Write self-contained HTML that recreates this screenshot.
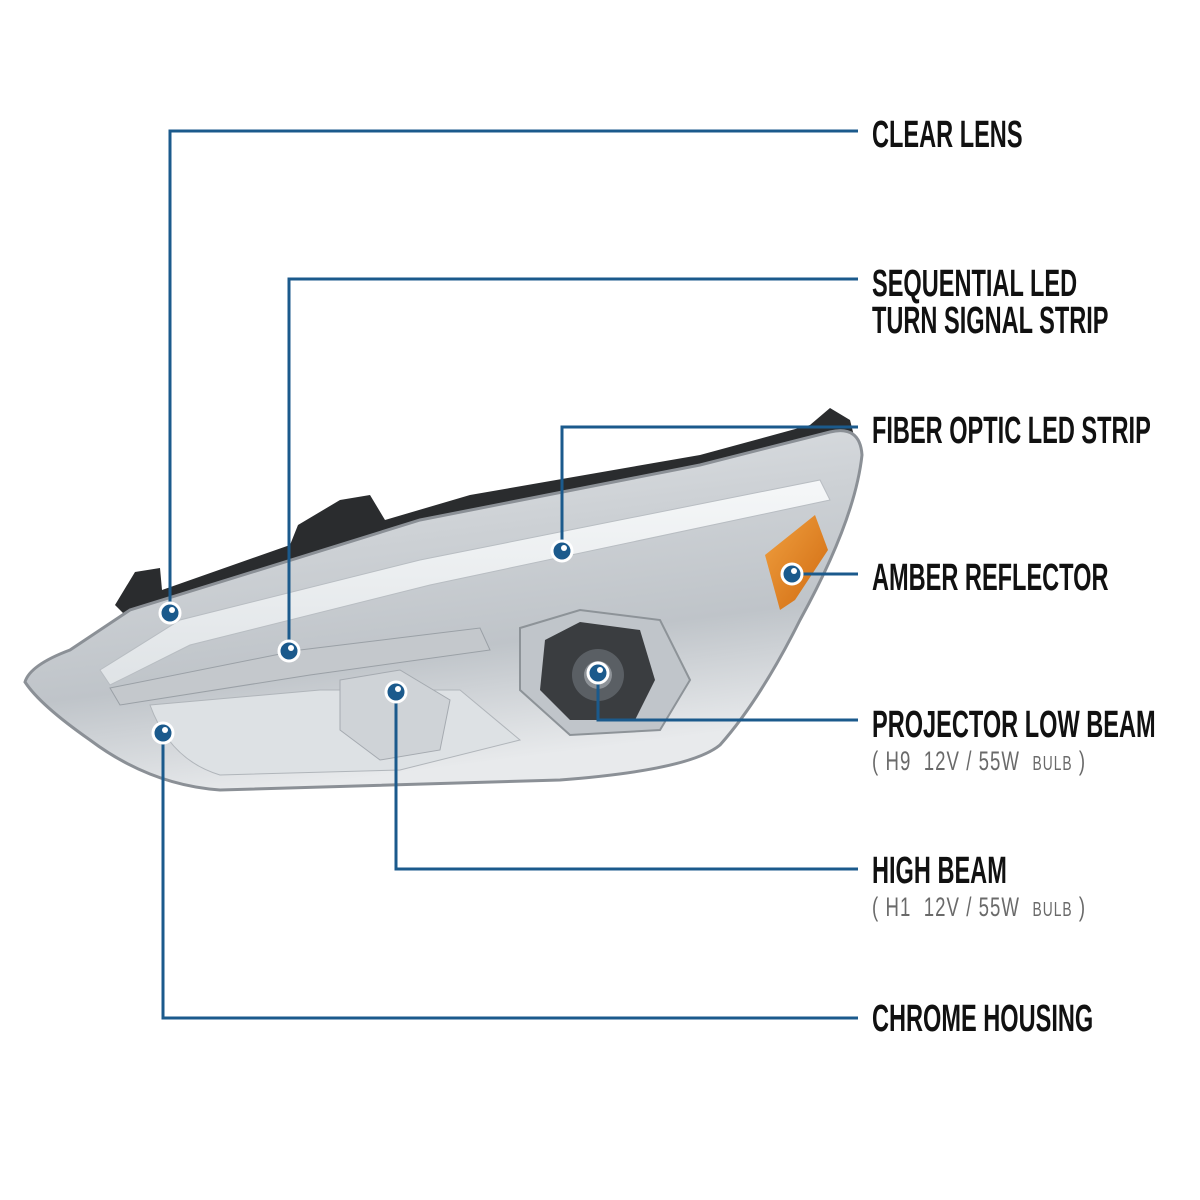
<!DOCTYPE html>
<html><head><meta charset="utf-8"><style>
html,body{margin:0;padding:0;background:#fff}
.wrap{position:relative;width:1200px;height:1200px;overflow:hidden;background:#fff}
.t{position:absolute;left:872px;font-family:"Liberation Sans",sans-serif;font-weight:bold;font-size:38px;color:#111;transform:scaleX(0.62);transform-origin:0 0;white-space:nowrap;line-height:37px}
.s{position:absolute;left:872px;font-family:"Liberation Sans",sans-serif;font-size:27px;color:#6a6a6a;transform:scaleX(0.69);transform-origin:0 0;white-space:nowrap;line-height:26px;letter-spacing:1.5px}
.s small{font-size:20px}
</style></head><body><div class="wrap">
<svg width="1200" height="1200" style="position:absolute;left:0;top:0">
<defs>
<linearGradient id="g1" x1="0" y1="0" x2="0.3" y2="1">
<stop offset="0" stop-color="#e4e7ea"/><stop offset="0.4" stop-color="#cdd1d5"/><stop offset="0.7" stop-color="#bfc4c9"/><stop offset="1" stop-color="#e8eaec"/></linearGradient>
<linearGradient id="g2" x1="0" y1="0" x2="0" y2="1"><stop offset="0" stop-color="#f5f7f8"/><stop offset="1" stop-color="#dfe3e6"/></linearGradient>
<linearGradient id="am" x1="0" y1="0" x2="1" y2="1"><stop offset="0" stop-color="#f0a040"/><stop offset="1" stop-color="#d06a10"/></linearGradient>
</defs>
<path d="M115,605 L135,572 L160,568 L162,590 L290,545 L298,525 L340,500 L370,495 L385,520 L470,495 L700,455 L810,425 L830,408 L850,420 L855,440 L600,500 L130,620 Z" fill="#2a2c2e"/>
<path d="M25,682 Q30,665 70,650 L130,610 L420,520 L700,465 L830,432 Q860,425 862,455 Q855,520 800,620 Q760,700 720,745 Q690,770 560,780 L220,790 Q150,785 90,740 Q40,705 25,682 Z" fill="url(#g1)" stroke="#8b9096" stroke-width="3"/>
<path d="M100,670 L180,620 L420,560 L820,480 L830,500 L430,585 L190,645 L110,685 Z" fill="url(#g2)" stroke="#b8bdc2"/>
<path d="M110,688 L300,650 L480,628 L490,650 L310,675 L120,705 Z" fill="#c4c8cc" stroke="#9aa0a6"/>
<path d="M150,705 L320,690 L460,690 L520,740 L400,770 L220,775 Q170,760 150,705 Z" fill="#dde1e4" stroke="#b0b5ba"/>
<path d="M520,628 L580,610 L660,620 L690,680 L660,730 L570,735 L520,690 Z" fill="#c0c5ca" stroke="#8d9398" stroke-width="2"/>
<path d="M545,640 L580,622 L640,630 L655,680 L635,720 L570,720 L540,690 Z" fill="#3a3d40"/>
<circle cx="598" cy="675" r="26" fill="#5a5f64"/>
<circle cx="598" cy="675" r="14" fill="#8d9297"/>
<path d="M340,680 L400,670 L450,700 L440,750 L380,760 L340,730 Z" fill="#cfd3d7" stroke="#a5aab0"/>
<path d="M765,555 L815,515 L828,550 L795,600 L780,610 Z" fill="url(#am)"/>
<g stroke="#1b5a8c" stroke-width="3" fill="none">
<polyline points="858,131 170,131 170,613"/>
<polyline points="858,279 289,279 289,651"/>
<polyline points="858,427 562,427 562,551"/>
<polyline points="792,574 858,574"/>
<polyline points="598,673 598,720 858,720"/>
<polyline points="396,692 396,869 858,869"/>
<polyline points="163,733 163,1018 858,1018"/>
</g>
<g fill="#1b5a8c" stroke="#fff" stroke-width="3">
<circle cx="170" cy="613" r="10"/><circle cx="289" cy="651" r="10"/><circle cx="562" cy="551" r="10"/>
<circle cx="792" cy="574" r="10"/><circle cx="598" cy="673" r="10"/><circle cx="396" cy="692" r="10"/><circle cx="163" cy="733" r="10"/>
</g>
<g fill="#fff"><circle cx="172" cy="610" r="3"/><circle cx="291" cy="648" r="3"/><circle cx="564" cy="548" r="3"/><circle cx="794" cy="571" r="3"/><circle cx="600" cy="670" r="3"/><circle cx="398" cy="689" r="3"/><circle cx="165" cy="730" r="3"/></g>
</svg>
<div class="t" style="top:117px">CLEAR LENS</div>
<div class="t" style="top:266px">SEQUENTIAL LED<br>TURN SIGNAL STRIP</div>
<div class="t" style="top:413px">FIBER OPTIC LED STRIP</div>
<div class="t" style="top:560px">AMBER REFLECTOR</div>
<div class="t" style="top:707px">PROJECTOR LOW BEAM</div>
<div class="s" style="top:748px">( H9&nbsp; 12V / 55W &nbsp;<small>BULB</small> )</div>
<div class="t" style="top:853px">HIGH BEAM</div>
<div class="s" style="top:894px">( H1&nbsp; 12V / 55W &nbsp;<small>BULB</small> )</div>
<div class="t" style="top:1001px">CHROME HOUSING</div>
</div></body></html>
